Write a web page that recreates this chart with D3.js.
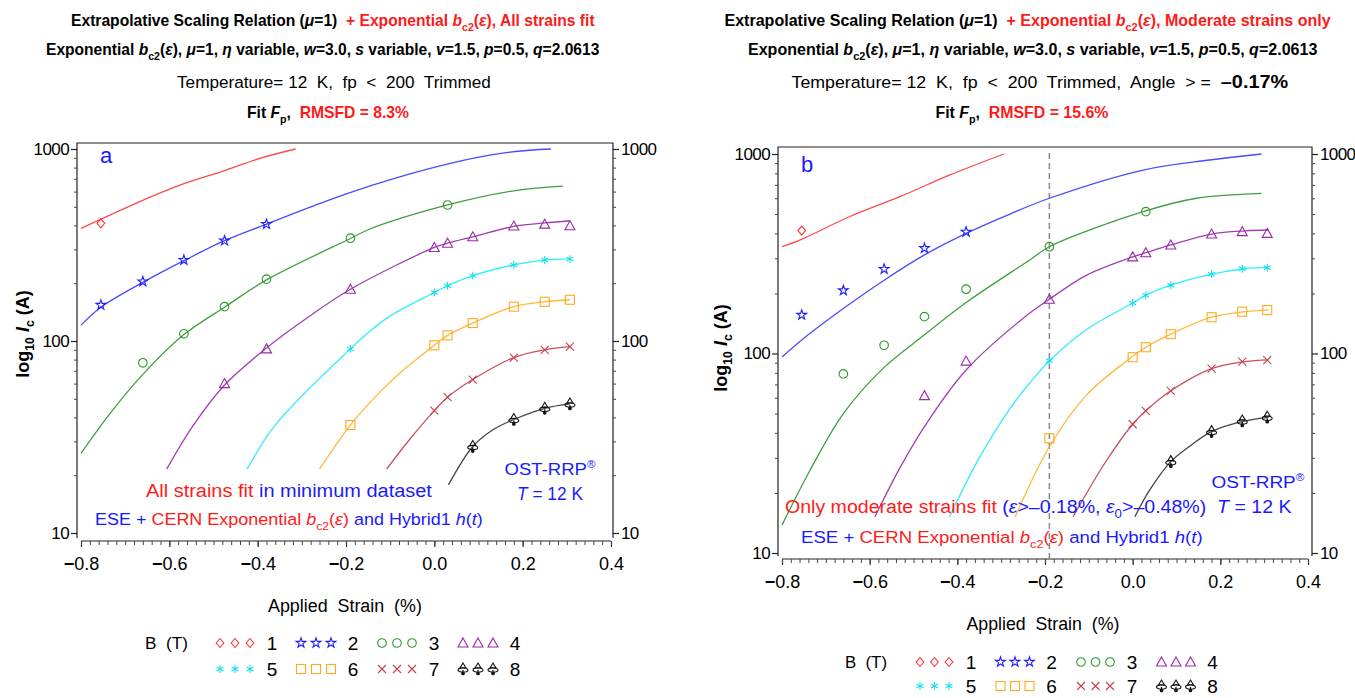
<!DOCTYPE html>
<html><head><meta charset="utf-8">
<script src="https://cdn.jsdelivr.net/npm/d3@7"></script>
<style>body{margin:0;background:#fff}text{white-space:pre}</style></head>
<body><svg id="c" width="1355" height="698"></svg>
<script>
// ---------------- DATA ----------------
const fieldsT = [1, 2, 3, 4, 5, 6, 7, 8];
const strains = [-0.755, -0.66, -0.567, -0.475, -0.38, -0.19, 0.0, 0.03, 0.087, 0.18, 0.25, 0.307];
const N = null;
// measured Ic (A), panel a, one row per field
const measuredA = [
  [410, N, N, N, N, N, N, N, N, N, N, N],
  [154, 204, 264, 333, 406, N, N, N, N, N, N, N],
  [N, 77, 109, 151, 210, 343, N, 511, N, N, N, N],
  [N, N, N, 60, 91, 186, 307, 323, 349, 397, 406, 398],
  [N, N, N, N, N, 91, 179, 194, 219, 249, 264, 267],
  [N, N, N, N, N, 36.5, 95, 107, 124, 151, 160, 164],
  [N, N, N, N, N, N, 43.4, 51, 63, 82, 90, 93.4],
  [N, N, N, N, N, N, N, N, 28.2, 39, 44.6, 47]
];
// measured Ic (A), panel b
const measuredB = [
  [413, N, N, N, N, N, N, N, N, N, N, N],
  [156, 207, 265, 337, 407, N, N, N, N, N, N, N],
  [N, 79, 110, 153, 210, 343, N, 514, N, N, N, N],
  [N, N, N, 61.5, 91.6, 187, 305, 320, 350, 397, 408, 400],
  [N, N, N, N, N, 92, 179, 196, 220, 250, 266, 269],
  [N, N, N, N, N, 37.6, 95.8, 107.5, 125, 152, 162, 165],
  [N, N, N, N, N, N, 44.2, 51.6, 65, 84, 91, 92.7],
  [N, N, N, N, N, N, N, N, 28.7, 40.6, 45.9, 47.9]
];
// fitted curves [strain %, Ic A], panel a
const fitA1 = [[-0.8,386],[-0.659,542],[-0.576,649],[-0.471,777],[-0.395,894],[-0.314,1000]];
const fitA2 = [[-0.8,121],[-0.755,150],[-0.66,202],[-0.567,262],[-0.475,333],[-0.38,406],[-0.245,535],[-0.147,640],[-0.057,740],[0.034,840],[0.139,940],[0.215,985],[0.264,1000]];
const fitA3 = [[-0.8,26],[-0.734,42],[-0.66,67],[-0.567,108],[-0.475,150],[-0.38,208],[-0.19,342],[-0.147,382],[0.03,511],[0.176,604],[0.291,641]];
const fitA4 = [[-0.606,21.5],[-0.547,36],[-0.475,59],[-0.38,92],[-0.29,131],[-0.19,186],[0.0,307],[0.03,323],[0.087,349],[0.18,395],[0.25,412],[0.307,423]];
const fitA5 = [[-0.424,21.5],[-0.358,37],[-0.19,91],[-0.147,112],[-0.102,134],[0.0,179],[0.03,194],[0.087,219],[0.18,249],[0.25,264],[0.307,268]];
const fitA6 = [[-0.26,21.5],[-0.19,36.5],[-0.124,54],[-0.072,70],[0.0,95],[0.03,107],[0.087,124],[0.18,151],[0.25,160],[0.307,164]];
const fitA7 = [[-0.108,21.5],[-0.057,30.5],[0.0,43.4],[0.03,51],[0.087,63],[0.18,82],[0.25,90],[0.307,93.4]];
const fitA8 = [[0.032,17.8],[0.087,28.2],[0.132,34.4],[0.18,39],[0.25,44.6],[0.307,47]];
// fitted curves, panel b
const fitB1 = [[-0.8,343],[-0.757,372],[-0.645,486],[-0.531,611],[-0.417,785],[-0.294,1000]];
const fitB2 = [[-0.8,96],[-0.757,116],[-0.66,168],[-0.567,233],[-0.475,312],[-0.38,400],[-0.28,500],[-0.19,600],[0.024,831],[0.176,933],[0.294,1000]];
const fitB3 = [[-0.8,13.8],[-0.736,26],[-0.66,50],[-0.57,84],[-0.475,124],[-0.38,180],[-0.234,295],[-0.19,343],[0.024,514],[0.146,600],[0.294,635]];
const fitB4 = [[-0.588,15.2],[-0.531,26.7],[-0.475,43],[-0.38,82.6],[-0.234,160],[-0.19,187],[-0.105,247],[0.0,305],[0.03,320],[0.087,350],[0.18,397],[0.256,412],[0.31,416]];
const fitB5 = [[-0.418,15.2],[-0.35,30],[-0.28,53],[-0.234,71.5],[-0.19,92],[-0.105,132],[0.0,179],[0.03,196],[0.087,220],[0.18,250],[0.256,266],[0.31,270]];
const fitB6 = [[-0.268,15.2],[-0.19,34.1],[-0.105,62],[-0.011,92.7],[0.03,107.5],[0.087,125],[0.18,152],[0.256,162],[0.31,165]];
const fitB7 = [[-0.136,15.2],[-0.06,29],[0.0,44.2],[0.03,51.6],[0.087,65],[0.18,84],[0.256,91],[0.31,93]];
const fitB8 = [[0.005,15.2],[0.039,20.7],[0.087,28.7],[0.134,34.8],[0.18,40.6],[0.256,45.9],[0.31,47.9]];
const cutoffStrainB = -0.19;
const xTickValues = [-0.8, -0.6, -0.4, -0.2, 0.0, 0.2, 0.4];
const yTickValues = [10, 100, 1000];
const yMinorValues = [20,30,40,50,60,70,80,90,200,300,400,500,600,700,800,900];

// ---------------- STYLE ----------------
const markColors = ["#ff3030","#2020ff","#2e9a2e","#9a2aa8","#10e0ee","#ffa820","#c84050","#111111"];
const lineColors = ["#ff4a4a","#4a4aff","#3f9f3f","#a040b0","#30eeff","#ffb83a","#c8505c","#444444"];
const markTypes = ["diamond","star","circle","triangle","asterisk","square","times","club"];
const RED = "#ff1a1a", BLUE = "#1a1aff", BLACK = "#000";
const SANS = "'Liberation Sans', Arial, sans-serif";
const NARROW = "'Liberation Sans Narrow', 'Arial Narrow', 'Liberation Sans', sans-serif";

const svg = d3.select("#c");

// rich text helper: parts [{t, c, i, sub, sup, b, s}]
function rich(g, o) {
  const size = o.size;
  const t = g.append("text").attr("x", 0).attr("y", o.y)
    .attr("font-family", o.family || SANS).attr("font-size", size)
    .attr("font-weight", o.weight || "normal");
  let off = 0;
  o.parts.forEach(p => {
    const ts = t.append("tspan").text(p.t).attr("fill", p.c || o.color || BLACK);
    if (p.i) ts.attr("font-style", "italic");
    if (p.b) ts.attr("font-weight", p.b);
    let target = 0;
    if (p.sub) { target = size * 0.28; ts.attr("font-size", size * 0.68); }
    else if (p.sup) { target = -size * 0.4; ts.attr("font-size", size * 0.62); }
    else if (p.s) ts.attr("font-size", p.s);
    if (target !== off) { ts.attr("dy", target - off); off = target; }
  });
  const W = t.node().getComputedTextLength();
  const w = o.w || W;
  const left = o.anchor === "middle" ? o.x - w / 2 : (o.anchor === "end" ? o.x - w : o.x);
  t.attr("transform", `translate(${left},0) scale(${w / W},1)`);
  return t;
}

function marker(g, type, x, y, color) {
  const m = g.append("g").attr("transform", `translate(${x},${y})`)
    .attr("fill", "none").attr("stroke", color).attr("stroke-width", 1.1);
  if (type === "diamond") m.append("path").attr("d", "M0,-4.5L3.8,0L0,4.5L-3.8,0Z");
  else if (type === "star") m.append("path").attr("d", d3.symbol(d3.symbolStar, 30)());
  else if (type === "circle") m.append("circle").attr("r", 4.3);
  else if (type === "triangle") m.append("path").attr("d", "M0,-5L5,4L-5,4Z");
  else if (type === "asterisk") m.append("path").attr("d", d3.symbol(d3.symbolAsterisk, 44)());
  else if (type === "square") m.append("rect").attr("x", -4.5).attr("y", -4.5).attr("width", 9).attr("height", 9);
  else if (type === "times") m.append("path").attr("d", "M-4,-4L4,4M-4,4L4,-4");
  else if (type === "club") {
    m.append("path").attr("d", "M0,-6L3,-1L-3,-1Z");
    m.append("ellipse").attr("cx", 0).attr("cy", 1).attr("rx", 5).attr("ry", 2.2);
    m.append("path").attr("d", "M0,1V5").attr("stroke-width", 1.3);
    m.append("circle").attr("cx", 0).attr("cy", 4.5).attr("r", 1.3).attr("fill", color);
  }
}

function drawPanel(P) {
  const g = svg.append("g");
  const x = d3.scaleLinear().domain([-0.8, 0.4]).range([P.x0, P.x1]);
  const y = d3.scaleLog().domain([10, 1000]).range([P.yBot, P.yTop]);

  // frame
  const fr = g.append("g").attr("stroke", "#222").attr("stroke-width", 1.2).attr("fill", "none");
  fr.append("path").attr("d", `M${P.fL},${P.fB}V${P.fT}H${P.fR}V${P.fB}`);
  fr.append("path").attr("d", `M${x(-0.8)},${P.axY}H${x(0.4)}`);

  // y axes
  const fmtY = d => String(d);
  [["L", P.fL], ["R", P.fR]].forEach(([side, pos]) => {
    const ax = (side === "L" ? d3.axisLeft(y) : d3.axisRight(y)).tickValues(yTickValues)
      .tickFormat(fmtY).tickSize(6).tickSizeOuter(0).tickPadding(2);
    const ga = g.append("g").attr("transform", `translate(${pos},0)`).call(ax);
    ga.select(".domain").remove();
    ga.selectAll("line").attr("stroke", "#222").attr("stroke-width", 1.2);
    ga.selectAll("text").attr("font-family", NARROW).attr("font-size", 17).attr("fill", "#000")
      .attr("letter-spacing", -0.6);
    const axm = (side === "L" ? d3.axisLeft(y) : d3.axisRight(y)).tickValues(yMinorValues)
      .tickFormat("").tickSize(3).tickSizeOuter(0);
    const gm = g.append("g").attr("transform", `translate(${pos},0)`).call(axm);
    gm.select(".domain").remove();
    gm.selectAll("line").attr("stroke", "#444");
  });

  // x axis
  const axX = d3.axisBottom(x).tickValues(xTickValues).tickSize(6).tickSizeOuter(0).tickPadding(10)
    .tickFormat(d => Math.abs(d).toFixed(1));
  const gx = g.append("g").attr("transform", `translate(0,${P.axY})`).call(axX);
  gx.select(".domain").remove();
  gx.selectAll("line").attr("stroke", "#222").attr("stroke-width", 1.2);
  gx.selectAll("text").attr("font-family", SANS).attr("font-size", 18).attr("fill", "#000")
    .each(function (d) {
      const s = d3.select(this);
      const txt = s.text();
      s.text(null);
      if (d < 0) s.append("tspan").attr("font-weight", "bold").text("\u2212");
      s.append("tspan").text(txt);
    });
  const minorX = d3.range(0, 61).map(i => -0.8 + i * 0.02);
  const axXm = d3.axisBottom(x).tickValues(minorX).tickSize(4).tickFormat("").tickSizeOuter(0);
  const gxm = g.append("g").attr("transform", `translate(0,${P.axY})`).call(axXm);
  gxm.select(".domain").remove();
  gxm.selectAll("line").attr("stroke", "#444");

  // dashed cutoff
  if (P.cutoff !== undefined) {
    g.append("line").attr("x1", x(P.cutoff)).attr("x2", x(P.cutoff))
      .attr("y1", P.fT + 6).attr("y2", P.axY)
      .attr("stroke", "#888").attr("stroke-width", 1.5).attr("stroke-dasharray", "6,4");
  }

  // fit curves
  const line = d3.line().x(d => x(d[0])).y(d => y(d[1])).curve(d3.curveCatmullRom.alpha(0.5));
  P.fits.forEach((f, i) => {
    g.append("path").attr("d", line(f)).attr("fill", "none")
      .attr("stroke", lineColors[i]).attr("stroke-width", 1.3);
  });
  // markers
  P.meas.forEach((row, i) => {
    row.forEach((v, j) => {
      if (v !== null) marker(g, markTypes[i], x(strains[j]), y(v), markColors[i]);
    });
  });

  // y label
  const yl = g.append("g").attr("transform", `translate(${P.ylX},${P.ylY}) rotate(-90)`);
  rich(yl, { x: 0, y: 0, anchor: "middle", size: 18, weight: "bold", parts: [
    { t: "log" }, { t: "10", sub: true }, { t: " " }, { t: "I", i: true }, { t: "c", sub: true }, { t: " (A)" }] });

  // x label
  rich(g, { x: P.xlX, y: P.xlY, anchor: "middle", size: 18, w: P.xlW, parts: [{ t: "Applied  Strain  (%)" }] });

  // legend
  const L = P.leg;
  rich(g, { x: L.bx, y: L.r1 + 6, size: 17, w: L.bw, parts: [{ t: "B  (T)" }] });
  fieldsT.forEach((b, i) => {
    const row = i < 4 ? 0 : 1;
    const col = i % 4;
    const cy = row === 0 ? L.r1 : L.r2;
    const sx = L.x0 + col * L.dx;
    for (let k = 0; k < 3; k++) marker(g, markTypes[i], sx + k * L.sdx, cy, markColors[i]);
    rich(g, { x: sx + 2 * L.sdx + L.nOff, y: cy + 7, size: 19, anchor: "middle", parts: [{ t: String(b) }] });
  });
  return { g, x, y };
}

// ---- panel a ----
const A = drawPanel({
  x0: 81, x1: 611, yTop: 149, yBot: 533, fL: 77, fR: 613, fT: 143, fB: 538, axY: 541,
  fits: [fitA1, fitA2, fitA3, fitA4, fitA5, fitA6, fitA7, fitA8], meas: measuredA,
  ylX: 29, ylY: 334, xlX: 345, xlY: 612, xlW: 154,
  leg: { bx: 145, bw: 43, r1: 643, r2: 669, x0: 220, dx: 81, sdx: 15, nOff: 22 }
});
// ---- panel b ----
const B = drawPanel({
  x0: 782, x1: 1308, yTop: 154, yBot: 553, fL: 778, fR: 1312, fT: 147, fB: 556, axY: 559,
  fits: [fitB1, fitB2, fitB3, fitB4, fitB5, fitB6, fitB7, fitB8], meas: measuredB,
  ylX: 727, ylY: 348, xlX: 1043, xlY: 630, xlW: 153, cutoff: cutoffStrainB,
  leg: { bx: 845, bw: 42, r1: 662, r2: 686, x0: 920, dx: 80.5, sdx: 14.5, nOff: 22 }
});

// ---- titles ----
function titles(cx, y0, variant) {
  const red = variant === "a" ? "), All strains fit" : "), Moderate strains only";
  rich(svg, { x: cx.l1, y: y0[0], anchor: "middle", size: 17, weight: "bold", family: NARROW, w: cx.w1, parts: [
    { t: "Extrapolative Scaling Relation (" }, { t: "\u03bc", i: true }, { t: "=1)  " },
    { t: "+ Exponential ", c: RED }, { t: "b", i: true, c: RED }, { t: "c2", sub: true, c: RED },
    { t: "(", c: RED }, { t: "\u03b5", i: true, c: RED }, { t: red, c: RED }] });
  rich(svg, { x: cx.l2, y: y0[1], anchor: "middle", size: 17, weight: "bold", family: NARROW, w: cx.w2, parts: [
    { t: "Exponential " }, { t: "b", i: true }, { t: "c2", sub: true }, { t: "(" }, { t: "\u03b5", i: true },
    { t: "), " }, { t: "\u03bc", i: true }, { t: "=1, " }, { t: "\u03b7", i: true }, { t: " variable, " },
    { t: "w", i: true }, { t: "=3.0, " }, { t: "s", i: true }, { t: " variable, " }, { t: "v", i: true },
    { t: "=1.5, " }, { t: "p", i: true }, { t: "=0.5, " }, { t: "q", i: true }, { t: "=2.0613" }] });
  const l3 = [{ t: "Temperature= 12  K,  fp  <  200  Trimmed" }];
  if (variant === "b") { l3[0].t += ",  Angle  > =  "; l3.push({ t: "\u20130.17%", b: "bold", s: 19 }); }
  rich(svg, { x: cx.l3, y: y0[2], anchor: "middle", size: 17, w: cx.w3, parts: l3 });
  rich(svg, { x: cx.l4, y: y0[3], anchor: "middle", size: 17, weight: "bold", family: NARROW, w: cx.w4, parts: [
    { t: "Fit " }, { t: "F", i: true }, { t: "p", sub: true }, { t: ",  " },
    { t: "RMSFD = " + (variant === "a" ? "8.3%" : "15.6%"), c: RED }] });
}
titles({ l1: 333, w1: 524, l2: 323, w2: 554, l3: 334, w3: 314, l4: 328, w4: 162 }, [26, 55, 88, 118], "a");
titles({ l1: 1028, w1: 607, l2: 1033, w2: 570, l3: 1040, w3: 497, l4: 1022, w4: 173 }, [26, 55, 88, 118], "b");

// ---- in-plot annotations ----
rich(A.g, { x: 100, y: 163, size: 22, parts: [{ t: "a", c: BLUE }] });
rich(B.g, { x: 801, y: 172, size: 22, parts: [{ t: "b", c: BLUE }] });

rich(A.g, { x: 146, y: 497, size: 19, w: 286, parts: [{ t: "All strains fit", c: RED }, { t: " in minimum dataset", c: BLUE }] });
rich(A.g, { x: 95, y: 525, size: 17, w: 388, parts: [
  { t: "ESE + ", c: BLUE }, { t: "CERN Exponential ", c: RED }, { t: "b", i: true, c: RED }, { t: "c2", sub: true, c: RED },
  { t: "(", c: RED }, { t: "\u03b5", i: true, c: RED }, { t: ")", c: RED }, { t: " and Hybrid1 ", c: BLUE },
  { t: "h", i: true, c: BLUE }, { t: "(", c: BLUE }, { t: "t", i: true, c: BLUE }, { t: ")", c: BLUE }] });
rich(A.g, { x: 550, y: 475, size: 17, anchor: "middle", w: 91, parts: [{ t: "OST-RRP", c: BLUE }, { t: "\u00ae", c: BLUE, sup: true }] });
rich(A.g, { x: 550, y: 500, size: 18, anchor: "middle", w: 66, parts: [{ t: "T", i: true, c: BLUE }, { t: " = 12 K", c: BLUE }] });

rich(B.g, { x: 785, y: 513, size: 19, w: 507, parts: [
  { t: "Only moderate strains fit ", c: RED }, { t: "(", c: BLUE }, { t: "\u03b5", i: true, c: BLUE },
  { t: ">\u20130.18%, ", c: BLUE }, { t: "\u03b5", i: true, c: BLUE }, { t: "0", sub: true, c: BLUE },
  { t: ">\u20130.48%)  ", c: BLUE }, { t: "T", i: true, c: BLUE }, { t: " = 12 K", c: BLUE }] });
rich(B.g, { x: 801, y: 543, size: 17, w: 402, parts: [
  { t: "ESE + ", c: BLUE }, { t: "CERN Exponential ", c: RED }, { t: "b", i: true, c: RED }, { t: "c2", sub: true, c: RED },
  { t: "(", c: RED }, { t: "\u03b5", i: true, c: RED }, { t: ")", c: RED }, { t: " and Hybrid1 ", c: BLUE },
  { t: "h", i: true, c: BLUE }, { t: "(", c: BLUE }, { t: "t", i: true, c: BLUE }, { t: ")", c: BLUE }] });
rich(B.g, { x: 1258, y: 488, size: 17, anchor: "middle", w: 93, parts: [{ t: "OST-RRP", c: BLUE }, { t: "\u00ae", c: BLUE, sup: true }] });
</script>
</body></html>
